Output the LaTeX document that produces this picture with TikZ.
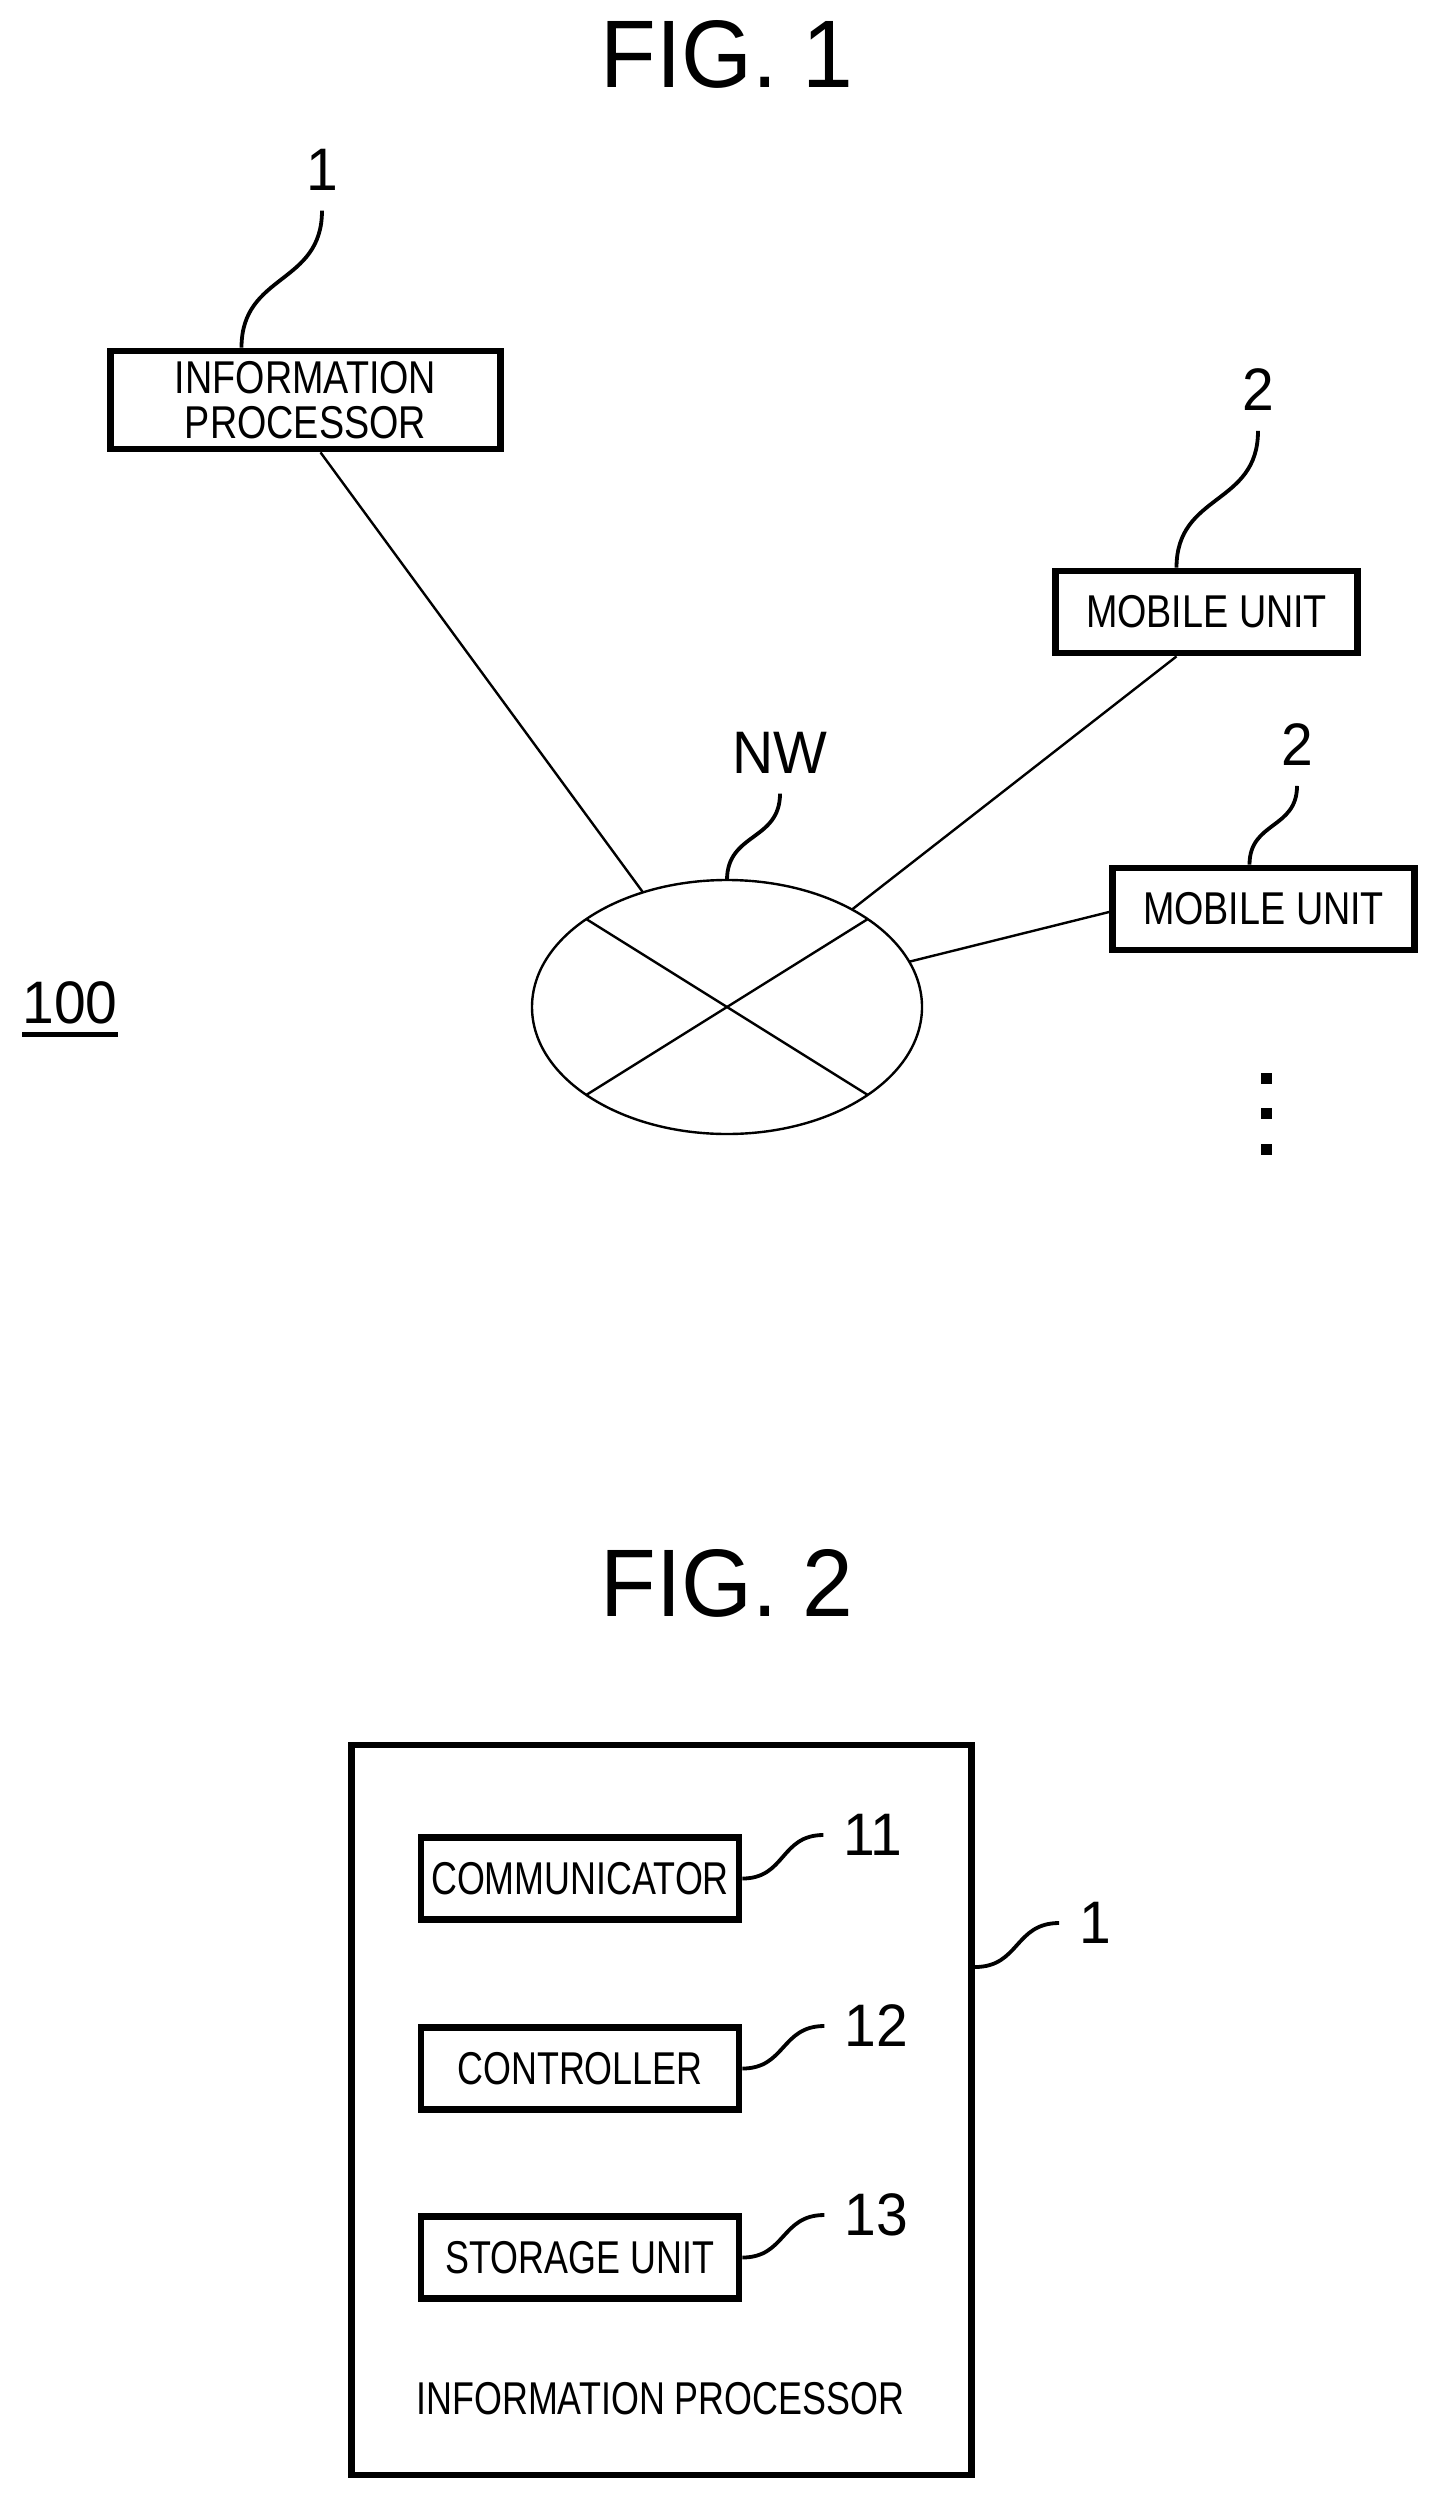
\documentclass[tikz,border=0pt]{standalone}
\usepackage{fontspec}
\setmainfont{Liberation Sans}
\newfontfamily\boxfont[FakeStretch=0.82]{Liberation Sans}
\newfontfamily\partfont[FakeStretch=0.78]{Liberation Sans}
\newfontfamily\numfont[FakeStretch=0.95]{Liberation Sans}
\usetikzlibrary{shapes.geometric}
\tikzset{
  block/.style={draw, rectangle, line width=3.4pt, inner sep=0pt, align=center,
    font=\boxfont\fontsize{23}{22.5}\selectfont},
  mobile/.style={block, minimum width=151pt, minimum height=41pt},
  part/.style={block, minimum width=159pt, minimum height=41pt,
    font=\partfont\fontsize{23}{22.5}\selectfont},
  title/.style={inner sep=0pt, font=\numfont\fontsize{48}{48}\selectfont},
  ref/.style={inner sep=0pt, outer sep=10pt, font=\numfont\fontsize{30}{30}\selectfont},
  caption/.style={inner sep=0pt, font=\partfont\fontsize{23}{22.5}\selectfont},
  link/.style={line width=1.2pt},
  leader/.style={line width=1.9pt},
  bar/.style={line width=2.5pt},
  dotmark/.style={draw=none, fill, rectangle, inner sep=0pt, minimum size=5.5pt},
}
\begin{document}
\begin{tikzpicture}[x=0.5pt,y=-0.5pt]
\useasboundingbox (0,0) rectangle (1439,2498);

\node[title] (figa) at (727,54) {FIG. 1};

\node[block, minimum width=195pt, minimum height=49pt] (info) at (305.5,400)
{INFORMATION\\PROCESSOR};
\node[mobile] (mobilea) at (1206.5,612) {MOBILE UNIT};
\node[mobile] (mobileb) at (1263.5,909) {MOBILE UNIT};
\node[draw, ellipse, link, inner sep=0pt, outer sep=0pt, minimum width=195pt, minimum height=127pt] (nw) at (727,1007) {};

\node[ref] (refinfo) at (322,170) {1};
\node[ref] (refa) at (1258,390) {2};
\node[ref] (refb) at (1297,745) {2};
\node[ref] (refnw) at (780,753) {NW};
\node[inner sep=0pt, font=\numfont\fontsize{30}{30}\selectfont] (sys) at (70,1003) {100};

\node[dotmark] (dota) at (1266,1078) {};
\node[dotmark] (dotb) at (1266,1113) {};
\node[dotmark] (dotc) at (1266,1149) {};

\path[draw,leader] (refinfo.south) to[out=-90,in=90,looseness=1.2] ([xshift=-32pt]info.north);
\path[draw,leader] (refa.south) to[out=-90,in=90,looseness=1.2] ([xshift=-15pt]mobilea.north);
\path[draw,leader] (refb.south) to[out=-90,in=90,looseness=1.2] ([xshift=-7pt]mobileb.north);
\path[draw,leader] (refnw.south) to[out=-90,in=90,looseness=1.2] (nw.north);
\path[draw,bar] ([yshift=-4.75pt]sys.south west) -- ([yshift=-4.75pt]sys.south east);

\path[draw,link] ([xshift=7.5pt]info.south) -- (nw);
\path[draw,link] ([xshift=-15pt]mobilea.south) -- (nw);
\path[draw,link] ([yshift=-1.5pt]mobileb.west) -- (nw);
\path[draw,link] (nw.148) -- (nw.-32);
\path[draw,link] (nw.32) -- (nw.212);

\node[title] (figb) at (727,1583) {FIG. 2};

\node[draw, rectangle, line width=3.4pt, minimum width=310pt, minimum height=365pt] (main) at (661.5,2110) {};
\node[part] (comm) at (580,1878.5) {COMMUNICATOR};
\node[part] (ctrl) at (580,2068.5) {CONTROLLER};
\node[part] (stor) at (580,2257.5) {STORAGE UNIT};
\node[caption, anchor=west] (infotext) at (416,2399) {INFORMATION PROCESSOR};

\node[ref] (refcomm) at (873,1835) {11};
\node[ref] (refctrl) at (876,2026) {12};
\node[ref] (refstor) at (876,2215) {13};
\node[ref] (refmain) at (1095,1923) {1};

\path[draw,leader] (comm.east) to[out=0,in=180,looseness=1.2] (refcomm.west);
\path[draw,leader] (ctrl.east) to[out=0,in=180,looseness=1.2] (refctrl.west);
\path[draw,leader] (stor.east) to[out=0,in=180,looseness=1.2] (refstor.west);
\path[draw,leader] ([yshift=71.5pt]main.east) to[out=0,in=180,looseness=1.2] (refmain.west);
\end{tikzpicture}
\end{document}
